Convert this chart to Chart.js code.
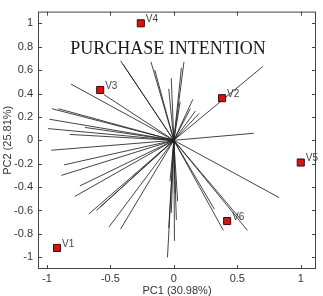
<!DOCTYPE html>
<html>
<head>
<meta charset="utf-8">
<script src="https://cdn.jsdelivr.net/npm/chart.js@4"></script>
<style>
  body { margin: 0; background: #fff; }
  #wrap { width: 323px; height: 296px; }
</style>
</head>
<body>
<div id="wrap"><canvas id="pca" width="323" height="296"></canvas></div>
<script>
// loadings (lines from origin)
const loadX = [-0.42, -0.40, -0.18, -0.15, 0.08, 0.06, -0.02, -0.04, 0.05, 0.15, 0.13, 0.17, 0.20, 0.70, 0.63,
  -0.81, -0.55, -0.96, -0.91, -0.98, -0.99, -0.70, -0.82, -0.965, -0.865, -0.886, -0.74, -0.78, -0.67, -0.61,
  -0.58, -0.51, -0.42, -0.05, 0.005, 0.03, -0.04, -0.02, 0.01, -0.03, 0.02, 0.83, 0.58, 0.53, 0.39, 0.32];
const loadY = [0.68, 0.65, 0.67, 0.60, 0.67, 0.62, 0.53, 0.44, 0.33, 0.35, 0.27, 0.25, 0.23, 0.63, 0.06,
  0.48, 0.39, 0.27, 0.27, 0.18, 0.10, 0.11, 0.05, -0.085, -0.21, -0.30, -0.39, -0.48, -0.63, -0.60,
  -0.57, -0.74, -0.76, -1.0, -0.86, -0.52, -0.75, -0.62, -0.45, -0.35, -0.68, -0.49, -0.77, -0.68, -0.77, -0.59];

// variables (red squares)
const varNames = ['V1', 'V2', 'V3', 'V4', 'V5', 'V6'];
const varX = [-0.92, 0.38, -0.58, -0.26, 1.0, 0.42];
const varY = [-0.92, 0.36, 0.43, 1.0, -0.19, -0.69];

const xTicks = [-1, -0.5, 0, 0.5, 1];
const yTicks = [-1, -0.8, -0.6, -0.4, -0.2, 0, 0.2, 0.4, 0.6, 0.8, 1];

const chartTitle = 'PURCHASE INTENTION';
const xTitle = 'PC1 (30.98%)';
const yTitle = 'PC2 (25.81%)';

const sans = 'Liberation Sans, Arial, sans-serif';
const fmt = v => String(Math.round(v * 10) / 10);

const datasets = [{
  data: varX.map((x, i) => ({ x, y: varY[i] })),
  pointStyle: 'rect',
  pointRadius: 5,
  backgroundColor: '#d21414',
  borderColor: '#3a0a0a',
  borderWidth: 1
}];
loadX.forEach((x, i) => {
  datasets.push({
    data: [{ x: 0, y: 0 }, { x, y: loadY[i] }],
    showLine: true,
    borderColor: 'rgba(35,35,35,0.85)',
    borderWidth: 1,
    pointRadius: 0,
    fill: false
  });
});

// box, inward ticks, title and point names
const extras = {
  id: 'extras',
  afterDatasetsDraw(chart) {
    const { ctx, chartArea: a, scales: { x, y } } = chart;
    ctx.save();
    ctx.strokeStyle = '#444';
    ctx.lineWidth = 1;
    ctx.strokeRect(a.left + 0.5, a.top + 0.5, a.right - a.left - 1, a.bottom - a.top - 1);
    ctx.beginPath();
    xTicks.forEach(v => {
      const p = Math.round(x.getPixelForValue(v)) + 0.5;
      ctx.moveTo(p, a.bottom); ctx.lineTo(p, a.bottom - 4);
      ctx.moveTo(p, a.top); ctx.lineTo(p, a.top + 4);
    });
    yTicks.forEach(v => {
      const p = Math.round(y.getPixelForValue(v)) + 0.5;
      ctx.moveTo(a.left, p); ctx.lineTo(a.left + 4, p);
      ctx.moveTo(a.right, p); ctx.lineTo(a.right - 4, p);
    });
    ctx.stroke();

    ctx.fillStyle = '#1a1a1a';
    ctx.font = '18px "Liberation Serif", "Times New Roman", serif';
    ctx.textAlign = 'center';
    ctx.textBaseline = 'middle';
    ctx.fillText(chartTitle, a.left + 130, a.top + 38);

    ctx.fillStyle = '#444';
    ctx.font = '10px ' + sans;
    ctx.textAlign = 'left';
    chart.getDatasetMeta(0).data.forEach((pt, i) => {
      ctx.fillText(varNames[i], pt.x + 5, pt.y - 4);
    });
    ctx.restore();
  }
};

new Chart(document.getElementById('pca'), {
  type: 'scatter',
  data: { datasets },
  options: {
    responsive: false,
    animation: false,
    layout: { padding: { top: 9, right: 7, left: 0, bottom: 0 } },
    plugins: { legend: { display: false }, tooltip: { enabled: false } },
    scales: {
      x: {
        type: 'linear', min: -1.07, max: 1.12,
        afterBuildTicks: s => { s.ticks = xTicks.map(v => ({ value: v })); },
        afterFit: s => { s.height = 27; },
        grid: { display: false, drawTicks: false },
        border: { display: false },
        ticks: { color: '#333', font: { family: sans, size: 11 }, padding: 3, maxRotation: 0, callback: fmt },
        title: { display: true, text: xTitle, color: '#333', font: { family: sans, size: 11, lineHeight: 1 }, padding: 0 }
      },
      y: {
        type: 'linear', min: -1.1, max: 1.1,
        afterBuildTicks: s => { s.ticks = yTicks.map(v => ({ value: v })); },
        afterFit: s => { s.width = 38; },
        grid: { display: false, drawTicks: false },
        border: { display: false },
        ticks: { color: '#333', font: { family: sans, size: 11 }, padding: 5, callback: fmt },
        title: { display: true, text: yTitle, color: '#333', font: { family: sans, size: 11, lineHeight: 1 }, padding: { top: 2, bottom: 0 } }
      }
    }
  },
  plugins: [extras]
});
</script>
</body>
</html>
